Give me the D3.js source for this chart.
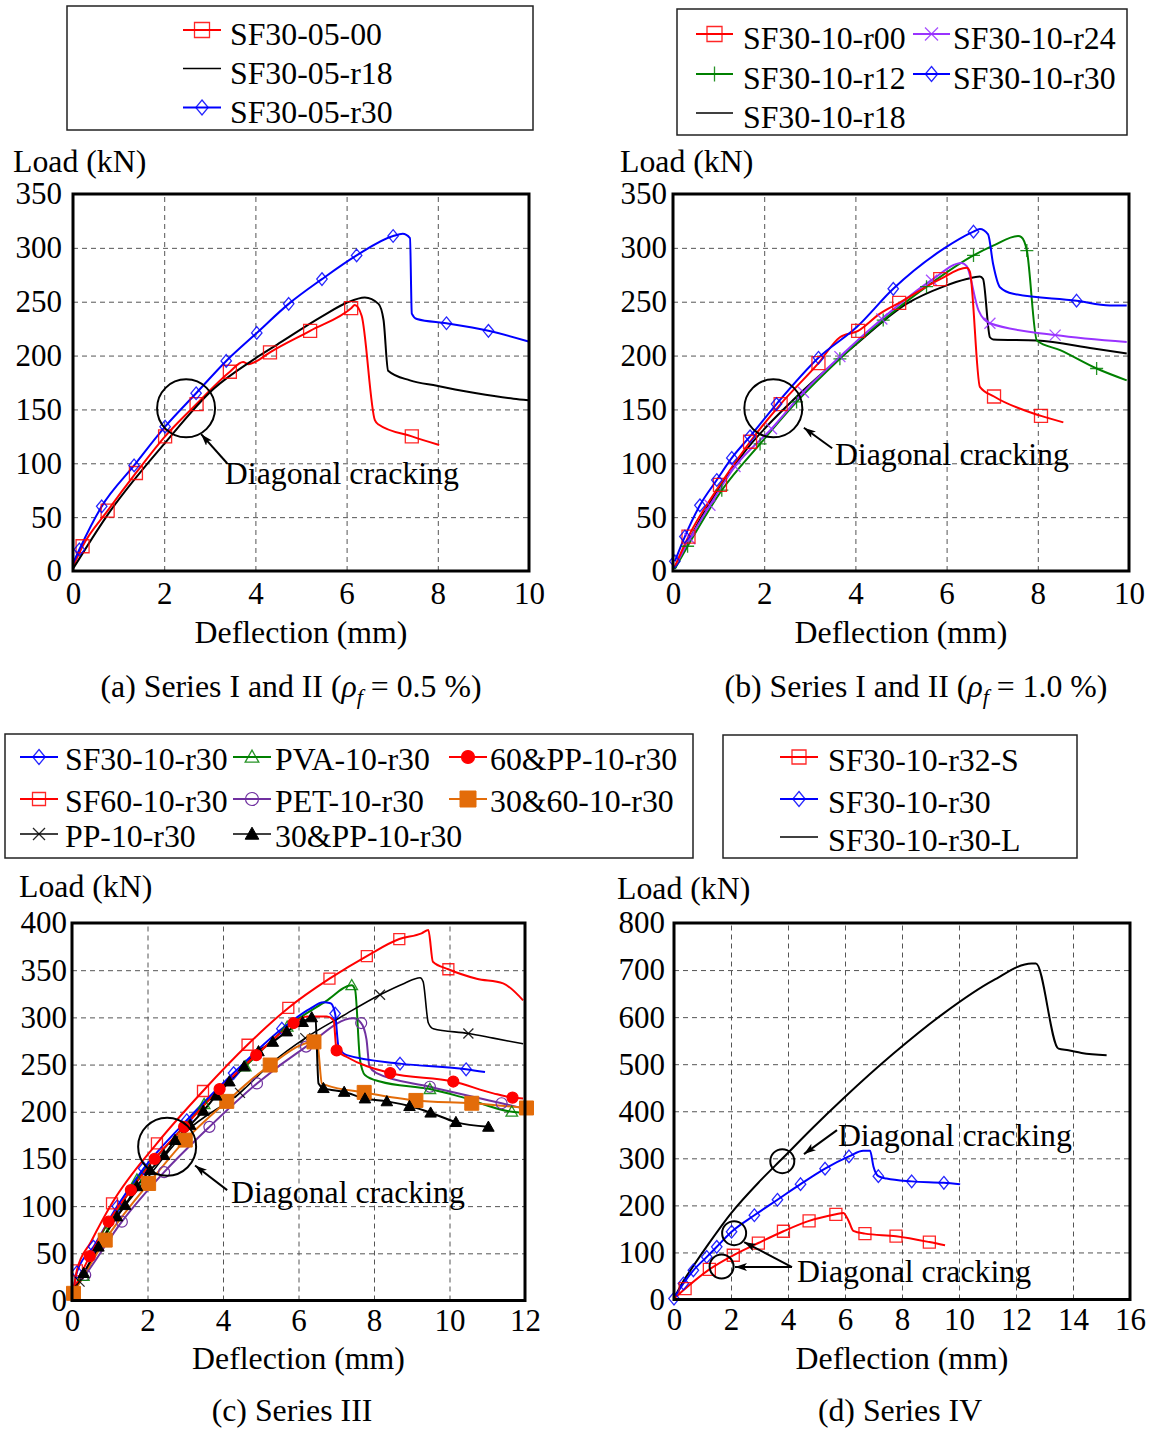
<!DOCTYPE html>
<html>
<head>
<meta charset="utf-8">
<script src="https://cdn.jsdelivr.net/npm/d3@7"></script>
<style>
  body { margin: 0; background: #fff; }
  svg text { font-family: "Liberation Serif", "Times New Roman", serif; fill: #000; }
</style>
</head>
<body>
<svg id="fig" width="1153" height="1430"></svg>
<script>
(function () {
  'use strict';

  // ---- tick values ----
  var xTicksAB = [0, 2, 4, 6, 8, 10];
  var yTicksAB = [0, 50, 100, 150, 200, 250, 300, 350];
  var xTicksC = [0, 2, 4, 6, 8, 10, 12];
  var yTicksC = [0, 50, 100, 150, 200, 250, 300, 350, 400];
  var xTicksD = [0, 2, 4, 6, 8, 10, 12, 14, 16];
  var yTicksD = [0, 100, 200, 300, 400, 500, 600, 700, 800];

  // ---- series names ----
  var namesA = ["SF30-05-00", "SF30-05-r18", "SF30-05-r30"];
  var namesB = ["SF30-10-r00", "SF30-10-r24", "SF30-10-r12", "SF30-10-r30", "SF30-10-r18"];
  var namesC = ["SF30-10-r30", "PVA-10-r30", "60&PP-10-r30", "SF60-10-r30", "PET-10-r30",
                "30&60-10-r30", "PP-10-r30", "30&PP-10-r30"];
  var namesD = ["SF30-10-r32-S", "SF30-10-r30", "SF30-10-r30-L"];

  // ---- data: [deflection mm, load kN, marker?] ----
  // (a) Series I and II, rho_f = 0.5 %
  var aSF30_05_00 = [[0,4],[0.21,23,1],[0.76,56,1],[1.38,91,1],[2.02,125,1],[2.71,155,1],[3.44,185,1],
    [3.73,194],[3.85,192],[3.99,194],[4.32,203,1],[5.20,223,1],[6.10,244,1],[6.18,247],[6.33,237],
    [6.62,140],[6.70,136],[7.43,125,1],[8.03,117]];
  var aSF30_05_r18 = [[0,2],[0.74,51],[2.02,119],[3.08,169],[3.95,196],[4.47,210],[5.49,237],[6.00,249],
    [6.40,254],[6.70,248],[6.81,233],[6.91,186],[7.39,177],[7.98,172],[8.85,165],[9.66,160],[9.99,158.5]];
  var aSF30_05_r30 = [[0,7],[0.14,20,1],[0.63,60,1],[1.34,98,1],[2.02,134,1],[2.70,165,1],[3.36,195,1],
    [4.03,221,1],[4.73,248,1],[5.46,271,1],[6.22,293,1],[7.02,311,1],[7.23,313],[7.39,309],[7.43,239],
    [7.54,234],[8.19,230,1],[9.11,223,1],[9.99,213]];

  // (b) Series I and II, rho_f = 1.0 %
  var bSF30_10_r00 = [[0.04,4],[0.34,32,1],[1.03,80,1],[1.69,120,1],[2.36,155,1],[3.19,193,1],[3.66,217],
    [4.06,223,1],[4.54,239],[4.96,249,1],[5.86,271,1],[6.44,281.5],[6.51,278],[6.73,171],[7.04,162,1],
    [8.07,144,1],[8.56,138]];
  var bSF30_10_r12 = [[0.04,2],[0.32,23,1],[1.07,75,1],[1.91,118,1],[2.71,157,1],[3.66,197,1],[4.61,233,1],
    [5.56,264,1],[6.59,293,1],[7.02,302],[7.57,311],[7.64,310],[7.76,297.5,1],[7.98,214],[8.49,205],
    [9.29,188,1],[9.95,177]];
  var bSF30_10_r18 = [[0.04,2],[0.59,47.5],[1.54,109],[2.64,159],[4.03,211],[5.12,248],[5.93,264],[6.44,271],
    [6.73,273.5],[6.80,271],[6.95,217],[7.02,215],[7.98,214],[9.22,206.5],[9.95,202]];
  var bSF30_10_r24 = [[0.04,4],[0.37,30,1],[0.81,61,1],[1.36,97,1],[2.16,132,1],[2.86,166,1],[3.66,199,1],
    [4.58,234,1],[5.67,270,1],[6.33,286],[6.44,283],[6.70,242],[6.95,230,1],[8.38,219,1],[9.95,212.5]];
  var bSF30_10_r30 = [[0.04,9,1],[0.26,32,1],[0.59,61,1],[0.96,84.5,1],[1.29,105,1],[1.69,125,1],[2.27,155,1],
    [3.19,198,1],[4.03,226.5],[4.83,262,1],[5.93,299],[6.59,315,1],[6.73,317.5],[6.91,312.5],[7.02,285],
    [7.17,263.5],[7.46,257.4],[8.85,251,1],[9.58,246.6],[9.95,246.6]];

  // (c) Series III
  var cSF30 = [[0.04,11],[0.13,30,1],[0.57,57,1],[1.2,100,1],[1.9,140,1],[3.04,191,1],[4.28,241,1],
    [5.56,288,1],[6.3,309],[6.66,316],[6.85,315],[6.97,304,1],[7.06,269],[7.28,260],[8.69,251,1],
    [10.44,245,1],[10.94,242]];
  var cPVA = [[0.04,11],[0.3,26,1],[0.9,72,1],[1.72,128,1],[2.6,168],[3.5,208,1],[4.59,248,1],[5.7,290,1],
    [6.72,317],[7.41,334,1],[7.5,329],[7.63,255],[7.76,239],[8.16,232],[9.48,224,1],[10.28,216],
    [11.65,200,1],[11.95,199]];
  var c60PP = [[0.04,11],[0.47,47,1],[0.97,83.5,1],[1.56,117,1],[2.19,150,1],[2.97,184,1],[3.91,224,1],
    [4.88,260,1],[5.87,294,1],[6.22,301],[6.75,301],[6.93,297],[7.01,265,1],[7.28,258],[8.43,241,1],
    [10.10,232,1],[11.16,219.5],[11.67,215,1],[11.95,214]];
  var cSF60 = [[0.04,11],[0.13,32,1],[0.5,62],[1.06,103,1],[2.25,166.5,1],[3.47,222,1],[4.65,271,1],
    [5.73,310,1],[6.82,341,1],[7.81,365,1],[8.67,383,1],[9.26,389],[9.44,392.5],[9.56,359],[9.97,351,1],
    [10.72,341],[11.42,336],[11.95,318]];
  var cPET = [[0.04,11],[0.35,27,1],[1.32,83.5,1],[2.44,136,1],[3.64,184,1],[4.90,230,1],[6.20,269,1],
    [7.45,299],[7.66,294,1],[7.80,277],[7.88,248],[8.07,241],[9.48,226.5,1],[11.38,209,1],[11.95,203.6]];
  var c3060 = [[0.04,7.6,1],[0.88,64,1],[2.03,124,1],[3.0,170,1],[4.10,211,1],[5.25,249.5,1],[6.41,274,1],
    [6.5,272],[6.62,230],[6.75,228],[7.74,220.5,1],[9.11,212,1],[10.59,209,1],[12.04,204,1]];
  var cPP = [[0.04,11],[0.2,20,1],[1,78],[2,130],[3,178],[4.45,220,1],[5.3,252],[6.18,278,1],[7.19,302],
    [8.16,324,1],[8.8,336],[9.22,342],[9.3,338],[9.44,294],[9.57,288],[10.5,283,1],[11.16,278],[11.95,272]];
  var c30PP = [[0.04,11],[0.31,29,1],[0.70,57,1],[1.19,89,1],[1.41,101,1],[1.72,121,1],[2.07,138,1],
    [2.44,154,1],[2.73,170,1],[3.13,186,1],[3.48,201,1],[3.82,217,1],[4.17,232,1],[4.56,248,1],
    [4.94,264,1],[5.32,274,1],[5.69,285,1],[6.11,295,1],[6.35,300,1],[6.45,298],[6.53,230],[6.66,225,1],
    [7.21,221,1],[7.76,214,1],[8.34,211,1],[8.94,206,1],[9.50,199,1],[10.17,189,1],[11.03,184,1]];

  // (d) Series IV
  var dSF30_r32_S = [[0,2],[0.39,23,1],[1.24,64,1],[2.08,94,1],[2.96,120,1],[3.84,145,1],[4.74,167,1],
    [5.68,181,1],[5.94,184],[6.12,168],[6.29,146],[6.70,140,1],[7.79,134.5,1],[8.96,122,1],[9.51,115]];
  var dSF30_r30 = [[0,2,1],[0.33,34,1],[0.68,62,1],[1.15,90.5,1],[1.50,112,1],[2.02,144,1],[2.82,179,1],
    [3.63,212,1],[4.44,245,1],[5.30,278,1],[6.14,304,1],[6.64,316],[6.88,316],[7.0,282],[7.17,262,1],
    [7.46,257],[8.34,251,1],[9.47,248,1],[10.04,245]];
  var dSF30_r30_L = [[0,2],[0.3,36],[0.7,73],[1.2,117],[2.0,183],[3.02,252],[3.81,300],[4.89,366],[5.94,427],
    [7.70,522.5],[9.45,607.5],[11.20,678],[12.55,714],[12.70,714],[13.49,533],[13.84,529.5],[14.30,524],
    [15.18,519]];

  // annotation anchors in data units: circle centres, arrow tails/heads, label position
  var annotA = { circles: [[2.48, 151]], arrows: [[[3.38, 100], [2.81, 127]]], labels: [[3.33, 81]] };
  var annotB = { circles: [[2.20, 151]], arrows: [[[3.49, 114], [2.87, 133]]], labels: [[3.55, 98]] };
  var annotC = { circles: [[2.52, 163]], arrows: [[[4.11, 117], [3.26, 143]]], labels: [[4.21, 103]] };
  var annotD = { circles: [[3.80, 294], [2.11, 141], [1.67, 70]],
                 arrows: [[[5.72, 360], [4.56, 309]], [[4.14, 69], [2.46, 122]], [[4.14, 69], [2.14, 69]]],
                 labels: [[5.75, 326], [4.32, 37]] };

  var RED = "#ff0000", BLUE = "#0000ff", GREEN = "#008000", BLACK = "#000000",
      PURPLE = "#9933ff", PURPLE2 = "#7030a0", ORANGE = "#e36c09";
  var FS = 31.8, TFS = 31;

  var svg = d3.select("#fig");

  var defs = svg.append("defs");
  defs.append("marker")
    .attr("id", "arrow")
    .attr("viewBox", "0 0 12 8")
    .attr("refX", 12).attr("refY", 4)
    .attr("markerWidth", 12).attr("markerHeight", 8)
    .attr("markerUnits", "userSpaceOnUse")
    .attr("orient", "auto")
    .append("path")
    .attr("d", "M0,0 L12,4 L0,8 L3,4 Z")
    .attr("fill", "#000");

  function markerPath(type, s) {
    switch (type) {
      case "square": case "squareFill":
        return "M" + (-s) + "," + (-s) + "h" + 2 * s + "v" + 2 * s + "h" + (-2 * s) + "Z";
      case "diamond":
        return "M0," + (-s * 1.15) + "L" + s * 0.95 + ",0L0," + s * 1.15 + "L" + (-s * 0.95) + ",0Z";
      case "triangle": case "triangleFill":
        return "M0," + (-s * 1.05) + "L" + s * 1.05 + "," + s * 0.8 + "L" + (-s * 1.05) + "," + s * 0.8 + "Z";
      case "plus":
        return "M" + (-s) + ",0H" + s + "M0," + (-s) + "V" + s;
      case "x":
        return "M" + (-s) + "," + (-s) + "L" + s + "," + s + "M" + (-s) + "," + s + "L" + s + "," + (-s);
      default:
        return null;
    }
  }

  function drawMarker(g, type, color, s, cx, cy) {
    if (!type) { return; }
    if (type === "circle" || type === "circleFill") {
      g.append("circle")
        .attr("cx", cx).attr("cy", cy).attr("r", s)
        .attr("fill", type === "circleFill" ? color : "none")
        .attr("stroke", color).attr("stroke-width", 1.2);
      return;
    }
    var filled = /Fill$/.test(type);
    g.append("path")
      .attr("d", markerPath(type, s))
      .attr("transform", "translate(" + cx + "," + cy + ")")
      .attr("fill", filled ? color : "none")
      .attr("stroke", color)
      .attr("stroke-width", filled ? 1 : 1.3)
      .attr("stroke-opacity", filled ? 1 : 0.85);
  }

  function drawPanel(p) {
    var g = svg.append("g").attr("transform", "translate(" + p.left + "," + p.top + ")");
    var x = d3.scaleLinear().domain([0, p.xMax]).range([0, p.width]);
    var y = d3.scaleLinear().domain([0, p.yMax]).range([p.height, 0]);

    // dashed grid
    g.append("g").attr("class", "grid")
      .attr("transform", "translate(0," + p.height + ")")
      .call(d3.axisBottom(x).tickValues(p.xTicks.slice(1, -1)).tickSize(-p.height).tickFormat(""))
      .call(function (s) { s.select(".domain").remove(); });
    g.append("g").attr("class", "grid")
      .call(d3.axisLeft(y).tickValues(p.yTicks.slice(1, -1)).tickSize(-p.width).tickFormat(""))
      .call(function (s) { s.select(".domain").remove(); });
    g.selectAll(".grid line")
      .attr("stroke", "#555").attr("stroke-width", 1).attr("stroke-dasharray", "5,4");

    // tick labels
    var xa = g.append("g")
      .attr("transform", "translate(0," + p.height + ")")
      .call(d3.axisBottom(x).tickValues(p.xTicks).tickSize(0).tickPadding(p.xPad).tickFormat(d3.format("d")));
    var ya = g.append("g")
      .call(d3.axisLeft(y).tickValues(p.yTicks).tickSize(0).tickPadding(p.yGap).tickFormat(d3.format("d")));
    [xa, ya].forEach(function (a) {
      a.select(".domain").remove();
      a.attr("font-family", null).attr("font-size", TFS);
      a.selectAll("text").attr("fill", "#000");
    });

    // curves
    var line = d3.line()
      .x(function (d) { return x(d[0]); })
      .y(function (d) { return y(d[1]); })
      .curve(d3.curveMonotoneX);

    p.series.forEach(function (s) {
      g.append("path")
        .datum(s.data)
        .attr("d", line)
        .attr("fill", "none")
        .attr("stroke", s.color)
        .attr("stroke-width", s.lw || 2)
        .attr("stroke-linejoin", "round");
    });
    p.series.forEach(function (s) {
      var mg = g.append("g");
      s.data.filter(function (d) { return d[2]; }).forEach(function (d) {
        drawMarker(mg, s.marker, s.color, s.size, x(d[0]), y(d[1]));
      });
    });

    // frame
    g.append("rect")
      .attr("width", p.width).attr("height", p.height)
      .attr("fill", "none").attr("stroke", "#000").attr("stroke-width", 3);

    // diagonal cracking notes
    var an = p.annot;
    an.circles.forEach(function (c) {
      g.append("circle")
        .attr("cx", x(c[0])).attr("cy", y(c[1])).attr("r", p.circleR)
        .attr("fill", "none").attr("stroke", "#000").attr("stroke-width", 2);
    });
    an.arrows.forEach(function (a) {
      g.append("line")
        .attr("x1", x(a[0][0])).attr("y1", y(a[0][1]))
        .attr("x2", x(a[1][0])).attr("y2", y(a[1][1]))
        .attr("stroke", "#000").attr("stroke-width", 2)
        .attr("marker-end", "url(#arrow)");
    });
    an.labels.forEach(function (l) {
      g.append("text")
        .attr("x", x(l[0])).attr("y", y(l[1]))
        .attr("font-size", FS)
        .text("Diagonal cracking");
    });

    // axis titles
    svg.append("text")
      .attr("x", p.yTitle[0]).attr("y", p.yTitle[1])
      .attr("font-size", FS).text("Load (kN)");
    svg.append("text")
      .attr("x", p.left + p.width / 2).attr("y", p.xTitleY)
      .attr("text-anchor", "middle").attr("font-size", FS).text("Deflection (mm)");

    // caption
    var cap = svg.append("text")
      .attr("x", p.caption[0]).attr("y", p.caption[1])
      .attr("text-anchor", "middle").attr("font-size", FS);
    if (p.rho) {
      cap.append("tspan").text(p.captionText + " (");
      cap.append("tspan").attr("font-style", "italic").text("ρ");
      cap.append("tspan").attr("font-style", "italic").attr("font-size", 22).attr("dy", 7).text("f");
      cap.append("tspan").attr("dy", -7).text(" = " + p.rho + " %)");
    } else {
      cap.text(p.captionText);
    }
  }

  function drawLegend(l) {
    var g = svg.append("g");
    g.append("rect")
      .attr("x", l.box[0]).attr("y", l.box[1])
      .attr("width", l.box[2] - l.box[0]).attr("height", l.box[3] - l.box[1])
      .attr("fill", "#fff").attr("stroke", "#222").attr("stroke-width", 1.5);
    l.items.forEach(function (it) {
      var cx = (it.x0 + it.x1) / 2;
      g.append("line")
        .attr("x1", it.x0).attr("x2", it.x1).attr("y1", it.y).attr("y2", it.y)
        .attr("stroke", it.s.color).attr("stroke-width", it.s.color === BLACK ? 1.3 : 2);
      drawMarker(g, it.s.marker, it.s.color, it.s.size + 1, cx, it.y);
      g.append("text")
        .attr("x", it.tx).attr("y", it.y + l.dy)
        .attr("font-size", FS)
        .text(it.name);
    });
  }

  // ---- series styles ----
  var sA = [
    { data: aSF30_05_00, color: RED, marker: "square", size: 6.5 },
    { data: aSF30_05_r18, color: BLACK, marker: null, size: 0 },
    { data: aSF30_05_r30, color: BLUE, marker: "diamond", size: 5.5 }
  ];
  var sB = [
    { data: bSF30_10_r00, color: RED, marker: "square", size: 6.5 },
    { data: bSF30_10_r24, color: PURPLE, marker: "x", size: 5.5 },
    { data: bSF30_10_r12, color: GREEN, marker: "plus", size: 6.5 },
    { data: bSF30_10_r30, color: BLUE, marker: "diamond", size: 5.5 },
    { data: bSF30_10_r18, color: BLACK, marker: null, size: 0 }
  ];
  var sC = [
    { data: cSF30, color: BLUE, marker: "diamond", size: 5.5 },
    { data: cPVA, color: GREEN, marker: "triangle", size: 5.5 },
    { data: c60PP, color: RED, marker: "circleFill", size: 5.5 },
    { data: cSF60, color: RED, marker: "square", size: 5.5 },
    { data: cPET, color: PURPLE2, marker: "circle", size: 5.5 },
    { data: c3060, color: ORANGE, marker: "squareFill", size: 7 },
    { data: cPP, color: BLACK, marker: "x", size: 5, lw: 1.6 },
    { data: c30PP, color: BLACK, marker: "triangleFill", size: 5.5 }
  ];
  var sD = [
    { data: dSF30_r32_S, color: RED, marker: "square", size: 6 },
    { data: dSF30_r30, color: BLUE, marker: "diamond", size: 5.5 },
    { data: dSF30_r30_L, color: BLACK, marker: null, size: 0 }
  ];

  drawPanel({
    left: 73, top: 194, width: 456, height: 377, xMax: 10, yMax: 350,
    xTicks: xTicksAB, yTicks: yTicksAB, xPad: 11, yGap: 11,
    series: sA, annot: annotA, circleR: 29,
    yTitle: [13, 172], xTitleY: 643, caption: [291, 697],
    captionText: "(a) Series I and II", rho: "0.5"
  });
  drawPanel({
    left: 673, top: 194, width: 456, height: 377, xMax: 10, yMax: 350,
    xTicks: xTicksAB, yTicks: yTicksAB, xPad: 11, yGap: 6,
    series: [sB[4], sB[2], sB[1], sB[0], sB[3]], annot: annotB, circleR: 29,
    yTitle: [620, 172], xTitleY: 643, caption: [916, 697],
    captionText: "(b) Series I and II", rho: "1.0"
  });
  drawPanel({
    left: 72, top: 923, width: 453, height: 377.5, xMax: 12, yMax: 400,
    xTicks: xTicksC, yTicks: yTicksC, xPad: 8, yGap: 5,
    series: [sC[4], sC[1], sC[0], sC[6], sC[5], sC[3], sC[7], sC[2]], annot: annotC, circleR: 29,
    yTitle: [19, 897], xTitleY: 1369, caption: [292, 1421],
    captionText: "(c) Series III"
  });
  drawPanel({
    left: 674, top: 923, width: 456, height: 376.5, xMax: 16, yMax: 800,
    xTicks: xTicksD, yTicks: yTicksD, xPad: 8, yGap: 9,
    series: [sD[2], sD[1], sD[0]], annot: annotD, circleR: 12,
    yTitle: [617, 899], xTitleY: 1369, caption: [900, 1421],
    captionText: "(d) Series IV"
  });

  // ---- legends ----
  drawLegend({
    box: [67, 6, 533, 130], dy: 15,
    items: [
      { name: namesA[0], s: sA[0], x0: 183, x1: 221, tx: 230, y: 30 },
      { name: namesA[1], s: sA[1], x0: 183, x1: 221, tx: 230, y: 68.5 },
      { name: namesA[2], s: sA[2], x0: 183, x1: 221, tx: 230, y: 107.5 }
    ]
  });
  drawLegend({
    box: [677, 9, 1127, 135], dy: 15,
    items: [
      { name: namesB[0], s: sB[0], x0: 696, x1: 733, tx: 743, y: 34 },
      { name: namesB[1], s: sB[1], x0: 913, x1: 950, tx: 953, y: 34 },
      { name: namesB[2], s: sB[2], x0: 696, x1: 733, tx: 743, y: 74 },
      { name: namesB[3], s: sB[3], x0: 913, x1: 950, tx: 953, y: 74 },
      { name: namesB[4], s: sB[4], x0: 696, x1: 733, tx: 743, y: 113 }
    ]
  });
  drawLegend({
    box: [5, 734, 693, 858], dy: 13,
    items: [
      { name: namesC[0], s: sC[0], x0: 20, x1: 58, tx: 65, y: 757 },
      { name: namesC[1], s: sC[1], x0: 233, x1: 271, tx: 275, y: 757 },
      { name: namesC[2], s: sC[2], x0: 449, x1: 487, tx: 490, y: 757 },
      { name: namesC[3], s: sC[3], x0: 20, x1: 58, tx: 65, y: 799 },
      { name: namesC[4], s: sC[4], x0: 233, x1: 271, tx: 275, y: 799 },
      { name: namesC[5], s: sC[5], x0: 449, x1: 487, tx: 490, y: 799 },
      { name: namesC[6], s: sC[6], x0: 20, x1: 58, tx: 65, y: 834 },
      { name: namesC[7], s: sC[7], x0: 233, x1: 271, tx: 275, y: 834 }
    ]
  });
  drawLegend({
    box: [723, 735, 1077, 858], dy: 14,
    items: [
      { name: namesD[0], s: sD[0], x0: 780, x1: 818, tx: 828, y: 757 },
      { name: namesD[1], s: sD[1], x0: 780, x1: 818, tx: 828, y: 799 },
      { name: namesD[2], s: sD[2], x0: 780, x1: 818, tx: 828, y: 837 }
    ]
  });
})();
</script>
</body>
</html>
